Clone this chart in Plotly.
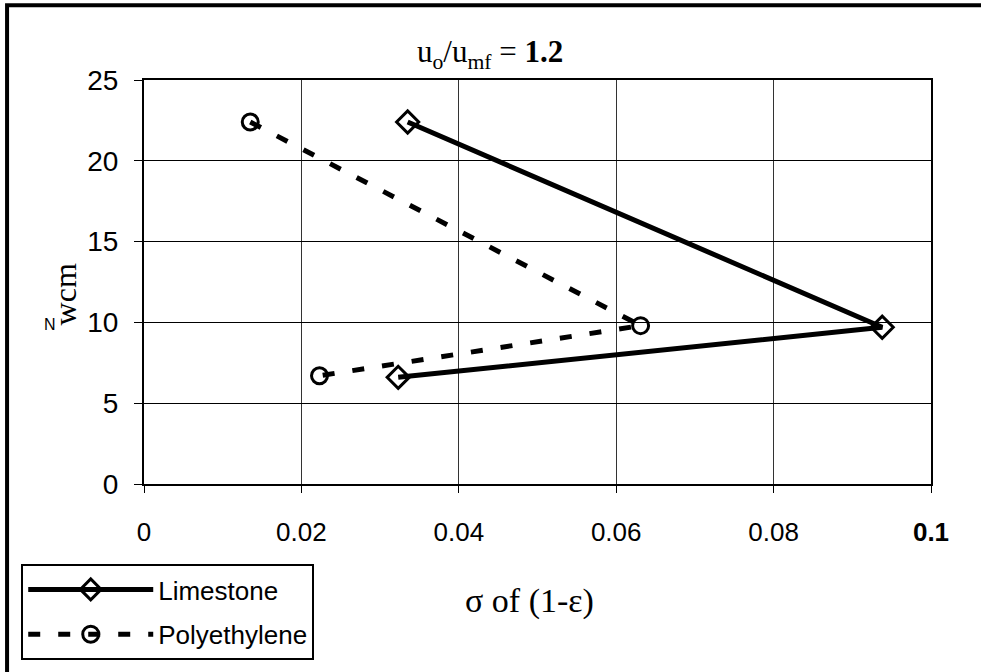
import plotly.graph_objects as go

# Standard deviation of solids fraction (1-eps) at three bed heights
limestone_sigma = [0.0335, 0.0938, 0.0323]
limestone_z = [22.4, 9.7, 6.6]
polyethylene_sigma = [0.0135, 0.0631, 0.0223]
polyethylene_z = [22.4, 9.8, 6.7]

x_ticks = [0, 0.02, 0.04, 0.06, 0.08, 0.1]
x_tick_text = ["0", "0.02", "0.04", "0.06", "0.08", "<b>0.1</b>"]
y_ticks = [0, 5, 10, 15, 20, 25]
y_tick_text = ["0", "5", "10", "15", "20", "25"]

narrow = "Liberation Sans Narrow, Arial Narrow, Liberation Sans, sans-serif"
serif = "Liberation Serif, Times New Roman, serif"

fig = go.Figure()
fig.add_trace(go.Scatter(
    x=limestone_sigma, y=limestone_z, name="Limestone",
    legendgroup="a",
    mode="lines+markers",
    line=dict(color="black", width=5),
    marker=dict(symbol="diamond-open", size=17, color="black",
                line=dict(width=3, color="black")),
))
fig.add_trace(go.Scatter(
    x=polyethylene_sigma, y=polyethylene_z, name="Polyethylene",
    legendgroup="b",
    mode="lines+markers",
    line=dict(color="black", width=5, dash="12px,18px"),
    marker=dict(symbol="circle-open", size=16, color="black",
                line=dict(width=3, color="black")),
))

fig.update_xaxes(
    range=[0, 0.1], tickvals=x_ticks, ticktext=x_tick_text,
    showgrid=True, gridcolor="#333", gridwidth=1,
    showline=True, linecolor="black", linewidth=2, mirror=True,
    ticks="outside", ticklen=7, tickcolor="black",
    ticklabelstandoff=17,
    tickfont=dict(family=narrow, size=26, color="black"),
    zeroline=False,
)
fig.update_yaxes(
    range=[0, 25], tickvals=y_ticks, ticktext=y_tick_text,
    showgrid=True, gridcolor="black", gridwidth=1.2,
    showline=True, linecolor="black", linewidth=2, mirror=True,
    ticks="outside", ticklen=8, tickcolor="black",
    ticklabelstandoff=10,
    tickfont=dict(family=narrow, size=28, color="black"),
    zeroline=False,
)

fig.update_layout(
    width=981, height=672,
    margin=dict(l=144, r=50, t=80, b=186),
    plot_bgcolor="white", paper_bgcolor="white",
    showlegend=True,
    legend=dict(
        x=-0.156, y=-0.198, xanchor="left", yanchor="top",
        bgcolor="white", bordercolor="black", borderwidth=2,
        font=dict(family=narrow, size=26, color="black"),
        itemwidth=125, tracegroupgap=8,
    ),
    annotations=[
        dict(text="u<sub>o</sub>/u<sub>mf</sub> = <b>1.2</b>",
             xref="paper", yref="paper", x=0.44, y=1.0,
             xanchor="center", yanchor="bottom",
             yshift=4, showarrow=False,
             font=dict(family=serif, size=31, color="black")),
        dict(text="σ of (1-ε)", xref="paper", yref="paper",
             x=0.49, y=-0.29, xanchor="center", yanchor="middle",
             showarrow=False,
             font=dict(family=serif, size=34, color="black")),
        dict(text="wcm", xref="paper", yref="paper",
             x=-0.1, y=0.47, xanchor="center", yanchor="middle",
             textangle=-90, showarrow=False,
             font=dict(family=serif, size=32, color="black")),
        dict(text="N", xref="paper", yref="paper",
             x=-0.12, y=0.395, xanchor="center", yanchor="middle",
             showarrow=False,
             font=dict(family=narrow, size=16, color="black")),
    ],
    shapes=[
        dict(type="rect", xref="paper", yref="paper",
             x0=-0.174, y0=-1.0, x1=1.2, y1=1.185,
             line=dict(color="black", width=4), layer="below"),
    ],
)

fig.write_html("out.html")
